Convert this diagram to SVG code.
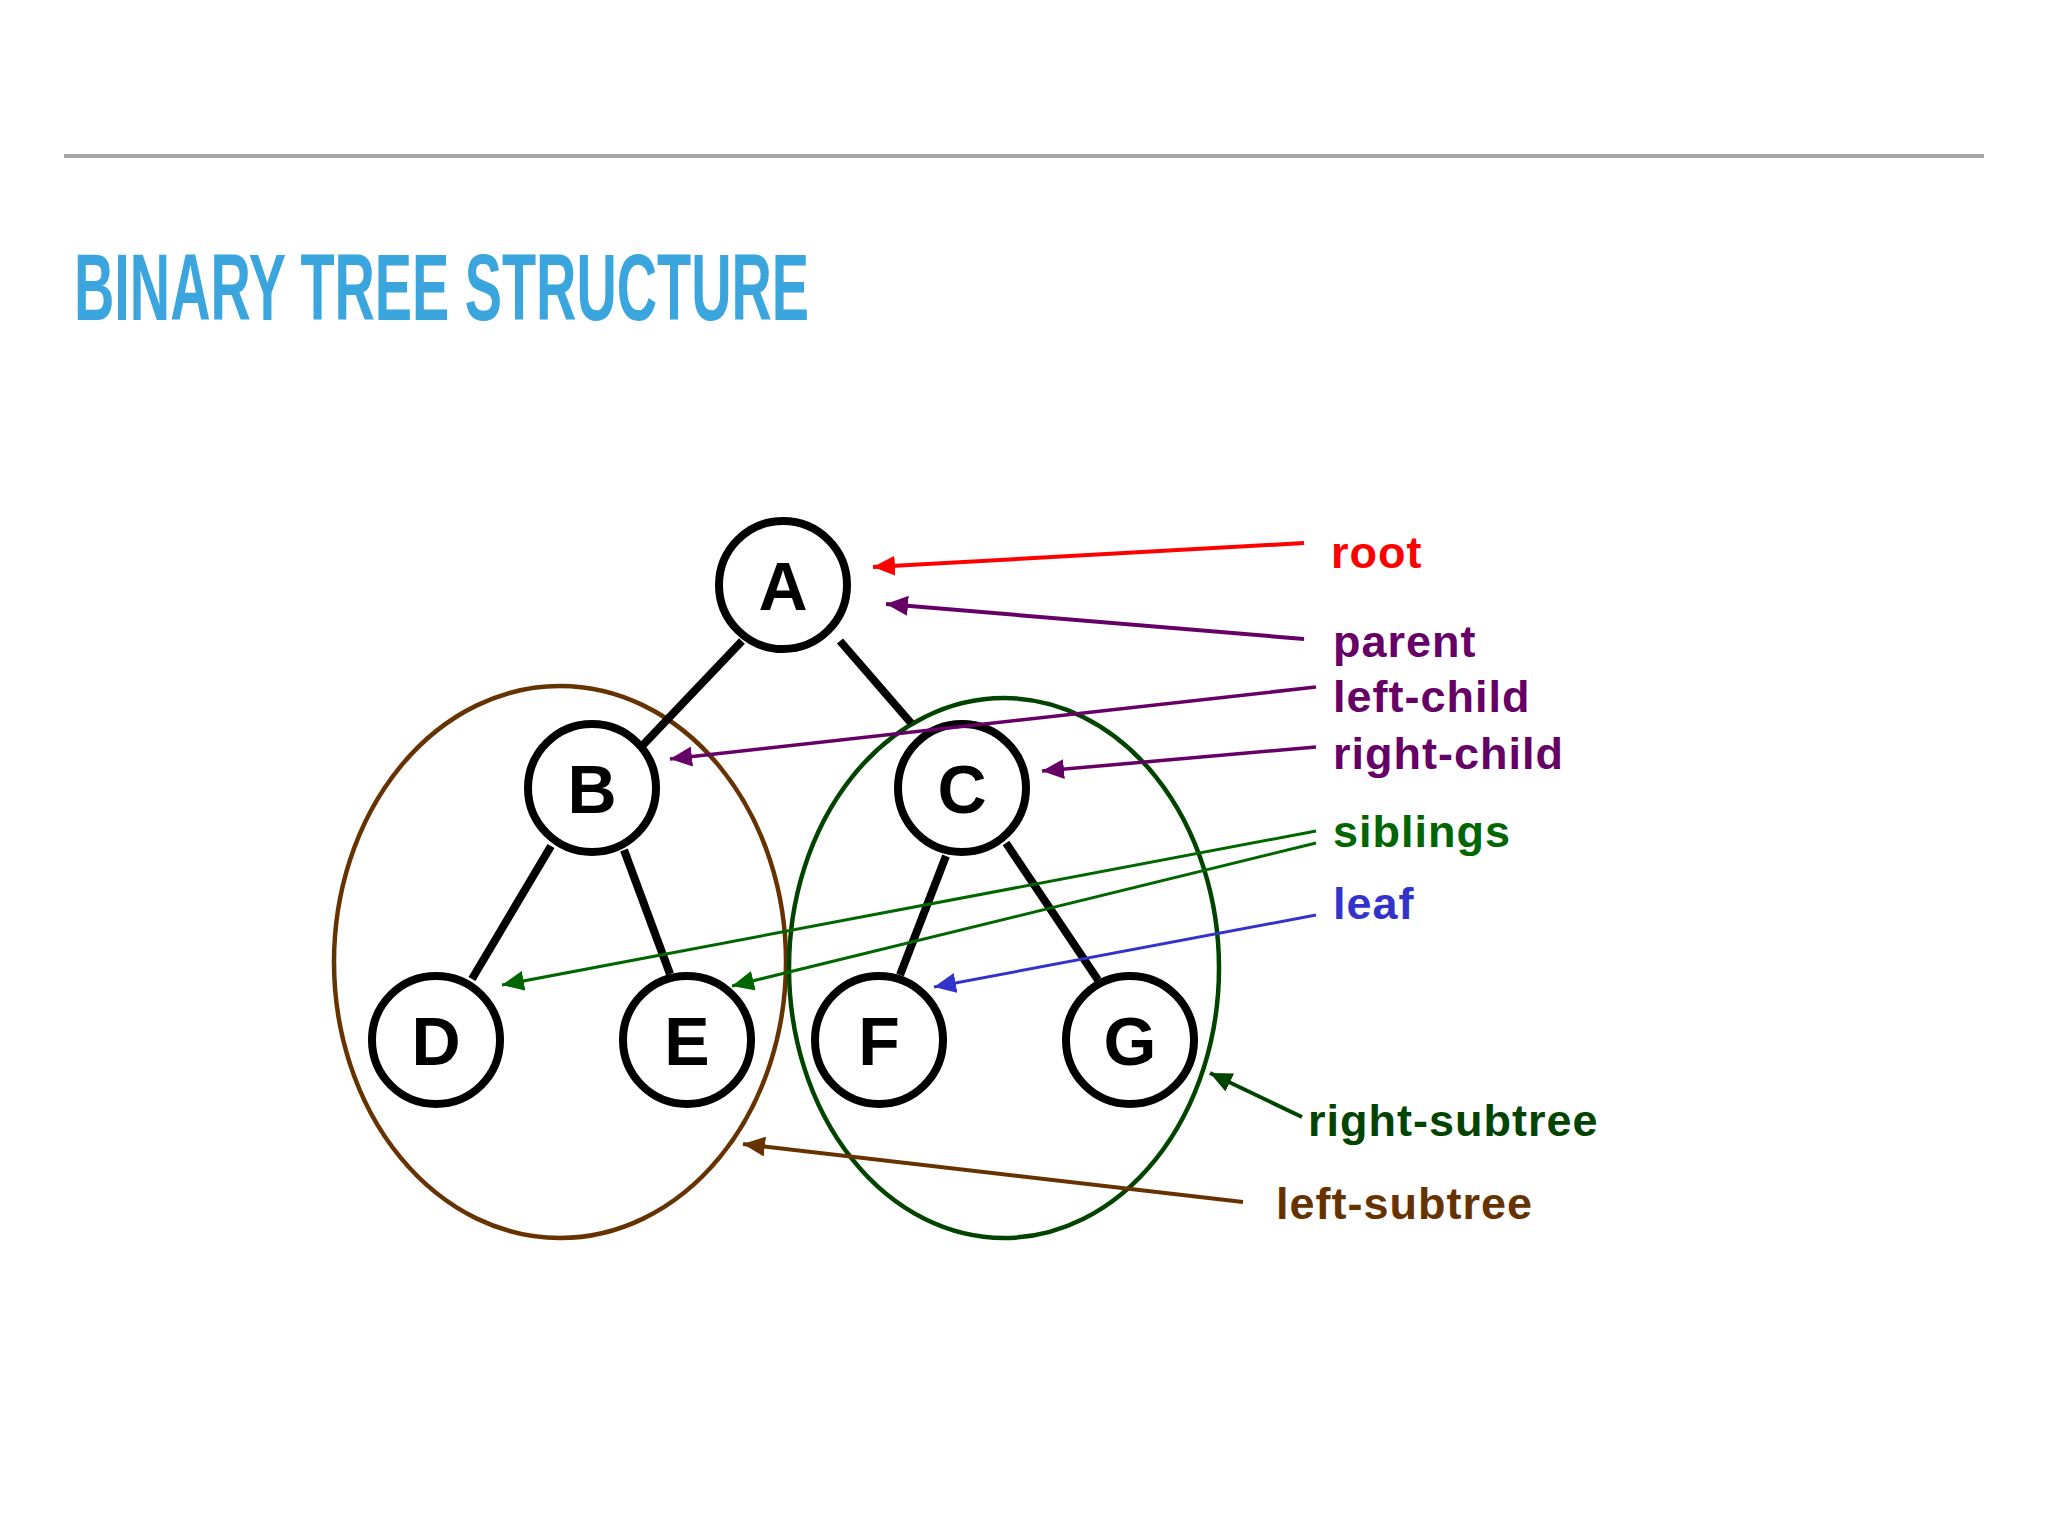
<svg xmlns="http://www.w3.org/2000/svg" width="2048" height="1536" viewBox="0 0 2048 1536">
<style>
.node circle{fill:#fff;stroke:#000;stroke-width:8}
.node text{font-family:"Liberation Sans",Arial,sans-serif;font-weight:bold;font-size:68px;text-anchor:middle;fill:#000}
.edge{stroke:#000;stroke-width:8;fill:none}
.lbl{font-family:"Liberation Sans",Arial,sans-serif;font-weight:bold;font-size:45px;letter-spacing:1px}
.title{font-family:"Liberation Sans Narrow","Liberation Sans",sans-serif;font-weight:bold;font-size:95px;fill:#3AA6DD}
</style>
<defs>
<marker id="mRed" markerUnits="userSpaceOnUse" markerWidth="24" markerHeight="20" refX="22" refY="10" orient="auto"><path d="M0,0 L22,10 L0,20 Z" fill="#FF0000"/></marker>
<marker id="mPur" markerUnits="userSpaceOnUse" markerWidth="24" markerHeight="20" refX="22" refY="10" orient="auto"><path d="M0,0 L22,10 L0,20 Z" fill="#660066"/></marker>
<marker id="mGrn" markerUnits="userSpaceOnUse" markerWidth="24" markerHeight="20" refX="22" refY="10" orient="auto"><path d="M0,0 L22,10 L0,20 Z" fill="#006600"/></marker>
<marker id="mBlu" markerUnits="userSpaceOnUse" markerWidth="24" markerHeight="20" refX="22" refY="10" orient="auto"><path d="M0,0 L22,10 L0,20 Z" fill="#3333CC"/></marker>
<marker id="mDg" markerUnits="userSpaceOnUse" markerWidth="24" markerHeight="20" refX="22" refY="10" orient="auto"><path d="M0,0 L22,10 L0,20 Z" fill="#004400"/></marker>
<marker id="mBrn" markerUnits="userSpaceOnUse" markerWidth="24" markerHeight="20" refX="22" refY="10" orient="auto"><path d="M0,0 L22,10 L0,20 Z" fill="#663300"/></marker>
</defs>
<rect width="2048" height="1536" fill="#fff"/>
<line x1="64" y1="156" x2="1984" y2="156" stroke="#A6A6A6" stroke-width="4"/>
<text class="title" x="74" y="320" textLength="735" lengthAdjust="spacingAndGlyphs">BINARY TREE STRUCTURE</text>

<g id="subtrees" fill="none">
<ellipse id="left-subtree-ellipse" cx="560" cy="962" rx="226" ry="276" stroke="#663300" stroke-width="4.5"/>
<ellipse id="right-subtree-ellipse" cx="1004" cy="968" rx="215" ry="270" stroke="#004400" stroke-width="4.5"/>
</g>

<g id="edges">
<line class="edge" x1="742" y1="641" x2="643" y2="745"/>
<line class="edge" x1="840" y1="641" x2="911" y2="723"/>
<line class="edge" x1="551" y1="846" x2="472" y2="979"/>
<line class="edge" x1="624" y1="850" x2="670" y2="974"/>
<line class="edge" x1="946" y1="856" x2="900" y2="975"/>
<line class="edge" x1="1006" y1="843" x2="1098" y2="980"/>
</g>

<g id="node-A" class="node"><circle cx="783" cy="585" r="64"/><text x="783" y="610">A</text></g>
<g id="node-B" class="node"><circle cx="592" cy="788" r="64"/><text x="592" y="813">B</text></g>
<g id="node-C" class="node"><circle cx="962" cy="788" r="64"/><text x="962" y="813">C</text></g>
<g id="node-D" class="node"><circle cx="436" cy="1040" r="64"/><text x="436" y="1065">D</text></g>
<g id="node-E" class="node"><circle cx="687" cy="1040" r="64"/><text x="687" y="1065">E</text></g>
<g id="node-F" class="node"><circle cx="879" cy="1040" r="64"/><text x="879" y="1065">F</text></g>
<g id="node-G" class="node"><circle cx="1130" cy="1040" r="64"/><text x="1130" y="1065">G</text></g>

<g id="connectors" fill="none">
<line x1="1304" y1="543" x2="873" y2="567" stroke="#FF0000" stroke-width="4" marker-end="url(#mRed)"/>
<line x1="1304" y1="639" x2="886" y2="604" stroke="#660066" stroke-width="4" marker-end="url(#mPur)"/>
<line x1="1316" y1="687" x2="670" y2="759" stroke="#660066" stroke-width="3.5" marker-end="url(#mPur)"/>
<line x1="1316" y1="747" x2="1042" y2="771" stroke="#660066" stroke-width="3.5" marker-end="url(#mPur)"/>
<line x1="1316" y1="831" x2="502" y2="985" stroke="#006600" stroke-width="3" marker-end="url(#mGrn)"/>
<line x1="1316" y1="843" x2="732" y2="986" stroke="#006600" stroke-width="3" marker-end="url(#mGrn)"/>
<line x1="1316" y1="915" x2="934" y2="987" stroke="#3333CC" stroke-width="3" marker-end="url(#mBlu)"/>
<line x1="1302" y1="1117" x2="1210" y2="1073" stroke="#004400" stroke-width="4" marker-end="url(#mDg)"/>
<line x1="1243" y1="1202" x2="743" y2="1144" stroke="#663300" stroke-width="4" marker-end="url(#mBrn)"/>
</g>

<g id="labels" class="lbl">
<text x="1331" y="568" fill="#FF0000">root</text>
<text x="1333" y="657" fill="#660066">parent</text>
<text x="1333" y="712" fill="#660066">left-child</text>
<text x="1333" y="769" fill="#660066">right-child</text>
<text x="1333" y="847" fill="#006600">siblings</text>
<text x="1333" y="919" fill="#3333CC">leaf</text>
<text x="1308" y="1136" fill="#004400">right-subtree</text>
<text x="1276" y="1219" fill="#663300">left-subtree</text>
</g>
</svg>
